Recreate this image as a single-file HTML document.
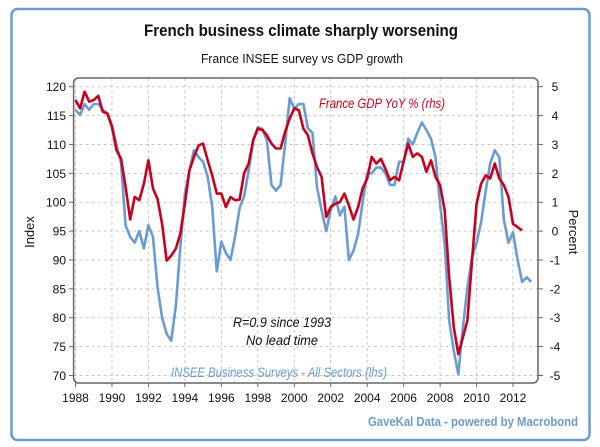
<!DOCTYPE html>
<html><head><meta charset="utf-8"><style>
html,body{margin:0;padding:0;background:#fff;}
svg{display:block;font-family:"Liberation Sans",sans-serif;}
</style></head><body>
<svg id="chart" width="600" height="447" viewBox="0 0 600 447">
<rect x="11.5" y="9" width="578" height="431" rx="6" fill="#fff" stroke="#6a9bd1" stroke-width="2.5"/>
<text x="301" y="36" text-anchor="middle" font-size="17" font-weight="bold" textLength="314" lengthAdjust="spacingAndGlyphs" fill="#111">French business climate sharply worsening</text>
<text x="302" y="63" text-anchor="middle" font-size="13" textLength="202" lengthAdjust="spacingAndGlyphs" fill="#111">France INSEE survey vs GDP growth</text>
<g id="grid"></g>
<g id="axes"></g>
<g id="series"></g>
<rect x="73.6" y="78" width="464.4" height="305" rx="5" fill="none" stroke="#666" stroke-width="1.5"/>
<text x="34" y="232" transform="rotate(-90 34 232)" text-anchor="middle" font-size="13" fill="#111">Index</text>
<text x="569" y="232" transform="rotate(90 569 232)" text-anchor="middle" font-size="13" fill="#111">Percent</text>
<text x="382" y="108" text-anchor="middle" font-size="14" font-style="italic" fill="#d0021b" textLength="126" lengthAdjust="spacingAndGlyphs">France GDP YoY % (rhs)</text>
<text x="282" y="327" text-anchor="middle" font-size="14" font-style="italic" fill="#111" textLength="98" lengthAdjust="spacingAndGlyphs">R=0.9 since 1993</text>
<text x="282" y="345" text-anchor="middle" font-size="14" font-style="italic" fill="#111" textLength="72" lengthAdjust="spacingAndGlyphs">No lead time</text>
<text x="279" y="377" text-anchor="middle" font-size="14" font-style="italic" fill="#6a9bd1" textLength="216" lengthAdjust="spacingAndGlyphs">INSEE Business Surveys - All Sectors (lhs)</text>
<text x="578" y="426" text-anchor="end" font-size="13" font-weight="bold" fill="#6a9bd1" textLength="210" lengthAdjust="spacingAndGlyphs">GaveKal Data - powered by Macrobond</text>
</svg>
<script>
const xTicks=[1988,1990,1992,1994,1996,1998,2000,2002,2004,2006,2008,2010,2012];
const leftTicks=[70,75,80,85,90,95,100,105,110,115,120];
const rightTicks=[-5,-4,-3,-2,-1,0,1,2,3,4,5];
const startYear=1988;
const insee=[116,115.1,117,116,117,117,116,115.4,113.3,110,106.7,96,94,93,95,92,96,94,85.3,80,77.2,76,82,92.2,101.5,105.5,109,107.8,107,104.4,99.2,88,93.2,91.2,90,94,99,101,105.5,110.7,113,112.7,110.7,103,102,103,110,118,116.2,117,117,112.8,112,102.6,98.6,95,98.6,101,97.7,99.2,90,91.6,94.5,100,105,105,106,106,105,103,103,107,107,111,110,112,113.8,112.5,111,107.8,99.7,92.8,79.5,74.3,70.2,78.3,85.2,90.5,93,96.5,102,106.7,109,107.8,96.9,93,94.8,90,86.2,87,86.2];
const gdp=[4.54,4.25,4.83,4.48,4.54,4.68,4.13,4.07,3.6,2.8,2.5,1.53,0.4,1.18,1.07,1.64,2.45,1.47,1.12,0.25,-1.02,-0.85,-0.61,-0.09,0.95,2.1,2.57,2.97,3.03,2.45,1.93,1.3,1.3,0.83,1.18,1.07,1.09,2.0,2.34,3.15,3.55,3.5,3.32,3.03,2.86,2.86,3.44,3.9,4.25,4.19,3.55,3.32,2.69,2.22,1.88,0.49,0.83,0.95,1.0,1.3,0.89,0.4,0.83,1.47,1.82,2.57,2.34,2.5,2.16,1.76,1.88,1.76,2.4,3.03,2.57,2.69,2.57,2.05,2.45,1.88,1.59,0.72,-1.6,-3.33,-4.26,-3.68,-3.1,-1.02,0.95,1.64,1.93,1.82,2.34,1.82,1.59,1.18,0.25,0.14,0.02];
const NS='http://www.w3.org/2000/svg';
const X=y=>75.5+(y-1988)*18.23;
const YL=v=>86.7+(120-v)*5.776;
const YR=v=>86.7+(5-v)*28.88;
function mk(tag,attrs,parent,txt){const e=document.createElementNS(NS,tag);for(const k in attrs)e.setAttribute(k,attrs[k]);if(txt!==undefined)e.textContent=txt;parent.appendChild(e);return e;}
const grid=document.getElementById('grid'),axes=document.getElementById('axes'),series=document.getElementById('series');
xTicks.forEach(t=>{
  const l=mk('line',{x1:X(t),x2:X(t),y1:78,y2:383,stroke:'#c8c8c8','stroke-dasharray':'3,3'},grid);
  
  
  const tk=mk('line',{x1:X(t),x2:X(t),y1:383,y2:387,stroke:'#666'},axes);
  
  
  const tx=mk('text',{x:X(t),y:402,'text-anchor':'middle','font-size':12,fill:'#111'},axes,t);
  
  
});
leftTicks.forEach(t=>{
  const l=mk('line',{x1:73.6,x2:538,y1:YL(t),y2:YL(t),stroke:'#c8c8c8','stroke-dasharray':'3,3'},grid);
  
  
  const tk=mk('line',{x1:69,x2:73.6,y1:YL(t),y2:YL(t),stroke:'#666'},axes);
  
  
  const tx=mk('text',{x:66,y:YL(t)+4.5,'text-anchor':'end','font-size':12,fill:'#111'},axes,t);
  
  
});
rightTicks.forEach(t=>{
  const tk=mk('line',{x1:538,x2:543,y1:YR(t),y2:YR(t),stroke:'#666'},axes);
  
  
  const tx=mk('text',{x:555,y:YR(t)+4.5,'text-anchor':'middle','font-size':12,fill:'#111'},axes,t);
  
  
});
const pb=insee.map((v,i)=>X(startYear+i*0.25).toFixed(1)+','+YL(v).toFixed(1)).join(' ');
const lb=mk('polyline',{points:pb,fill:'none',stroke:'#6a9bd1','stroke-width':2.6,'stroke-linejoin':'round'},series);


const pr=gdp.map((v,i)=>X(startYear+i*0.25).toFixed(1)+','+YR(v).toFixed(1)).join(' ');
const lr=mk('polyline',{points:pr,fill:'none',stroke:'#c8001e','stroke-width':2.6,'stroke-linejoin':'round'},series);


</script>
</body></html>
